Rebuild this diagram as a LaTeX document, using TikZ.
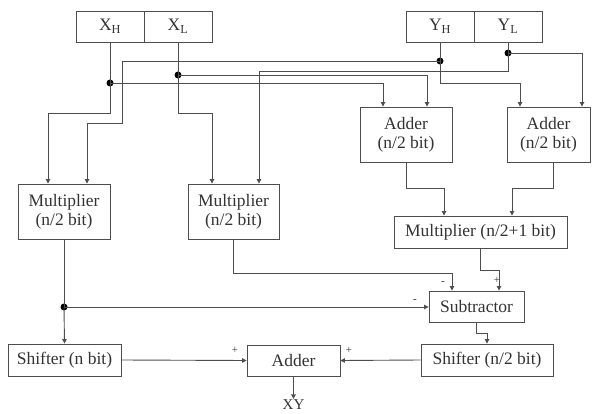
\documentclass[tikz,border=0pt]{standalone}
\usepackage{fontspec}
\setmainfont{Liberation Serif}
\usepackage{tikz}
\usetikzlibrary{arrows.meta,positioning,calc}
\definecolor{Wire}{HTML}{4D4D4D}
\definecolor{Ink}{HTML}{333333}

\begin{document}
\begin{tikzpicture}[
  x=1pt,y=-1pt,
  block/.style={draw=Wire,line width=0.9pt,fill=white,align=center,text=Ink,
    font=\fontsize{17.5}{19}\selectfont,inner sep=2pt},
  reg/.style={block,minimum width=68,minimum height=31},
  wire/.style={draw=Wire,line width=0.9pt},
  arr/.style={wire,-{Triangle[length=4.5pt,width=4.5pt]}},
  dot/.style={circle,fill=black,inner sep=0pt,minimum size=7pt},
  sgn/.style={font=\fontsize{11}{11}\selectfont,text=Ink}
]
\useasboundingbox (0,0) rectangle (596,414);

% operand registers
\node[reg] (xh) at (110,26.5) {X\textsubscript{H}};
\node[reg] (xl) at (178,26.5) {X\textsubscript{L}};
\node[reg] (yh) at (440,26.5) {Y\textsubscript{H}};
\node[reg] (yl) at (508,26.5) {Y\textsubscript{L}};

% arithmetic blocks
\node[block,minimum width=92,minimum height=55] (add1) at (406,134.5) {Adder\\(n/2 bit)};
\node[block,minimum width=83,minimum height=55] (add2) at (548.5,134.5) {Adder\\(n/2 bit)};
\node[block,minimum width=92,minimum height=55] (mul1) at (64,211.5) {Multiplier\\(n/2 bit)};
\node[block,minimum width=91,minimum height=55] (mul2) at (233.5,211.5) {Multiplier\\(n/2 bit)};
\node[block,minimum width=173,minimum height=32] (mul3) at (480.5,232) {Multiplier (n/2+1 bit)};
\node[block,minimum width=95,minimum height=31] (sub) at (476.5,306.5) {Subtractor};
\node[block,minimum width=113,minimum height=32] (sh1) at (64.5,360) {Shifter (n bit)};
\node[block,minimum width=93,minimum height=31] (add3) at (293.5,360.5) {Adder};
\node[block,minimum width=132,minimum height=32] (sh2) at (487,360) {Shifter (n/2 bit)};
\node[font=\fontsize{15}{15}\selectfont,text=Ink,inner sep=1pt] (xy) at (293.5,405) {XY};

% junctions
\node[dot] (dxh) at (110,83) {};
\node[dot] (dxl) at (178,75) {};
\node[dot] (dyh) at (440,61) {};
\node[dot] (dyl) at (508,53) {};
\node[dot] (dm1) at (64,307) {};

% operand fan-out
\draw[wire] (xh.south) -- (dxh.center);
\draw[wire] (xl.south) -- (dxl.center);
\draw[wire] (yh.south) -- (dyh.center);
\draw[wire] (yl.south) -- (dyl.center);
\draw[arr] (dxh.center) -- ++(0,30) -| ([xshift=-16]mul1.north);
\draw[arr] (dyh.center) -| (122,123) -| ([xshift=23]mul1.north);
\draw[arr] (dxl.center) -- ++(0,38) -| ([xshift=-21.5]mul2.north);
\draw[arr] (dyl.center) -- ++(0,18) -| ([xshift=25.5]mul2.north);
\draw[arr] (dxh.center) -| ([xshift=-23]add1.north);
\draw[arr] (dxl.center) -| ([xshift=21]add1.north);
\draw[arr] (dyh.center) -- ++(0,22) -| ([xshift=-28.5]add2.north);
\draw[arr] (dyl.center) -| ([xshift=33.5]add2.north);

% middle stage
\draw[arr] (add1.south) -- ++(0,26) -| ([xshift=-36.5]mul3.north);
\draw[arr] ([xshift=4.5]add2.south) -- ++(0,26) -| ([xshift=31.5]mul3.north);
\draw[arr] (mul3.south) -- ++(0,22) -| ([xshift=22.5]sub.north);
\draw[arr] (mul2.south) -- ++(0,34) -| ([xshift=-24.5]sub.north);
\draw[wire] (mul1.south) -- (dm1.center);
\draw[arr] (dm1.center) -- (sh1.north);
\draw[arr] (dm1.center) -- (dm1 -| sub.west);
\draw[arr] (sub.south) -- ++(0,11) -| (sh2.north);

% final sum
\draw[arr] (sh1.east) -- (add3.west);
\draw[arr] (sh2.west) -- (add3.east);
\draw[arr] (add3.south) -- (xy.north);

% signs
\node[sgn] at (443,283) {-};
\node[sgn] at (497,280) {+};
\node[sgn] at (415,301) {-};
\node[sgn] at (235,350) {+};
\node[sgn] at (349,350) {+};
\end{tikzpicture}
\end{document}
